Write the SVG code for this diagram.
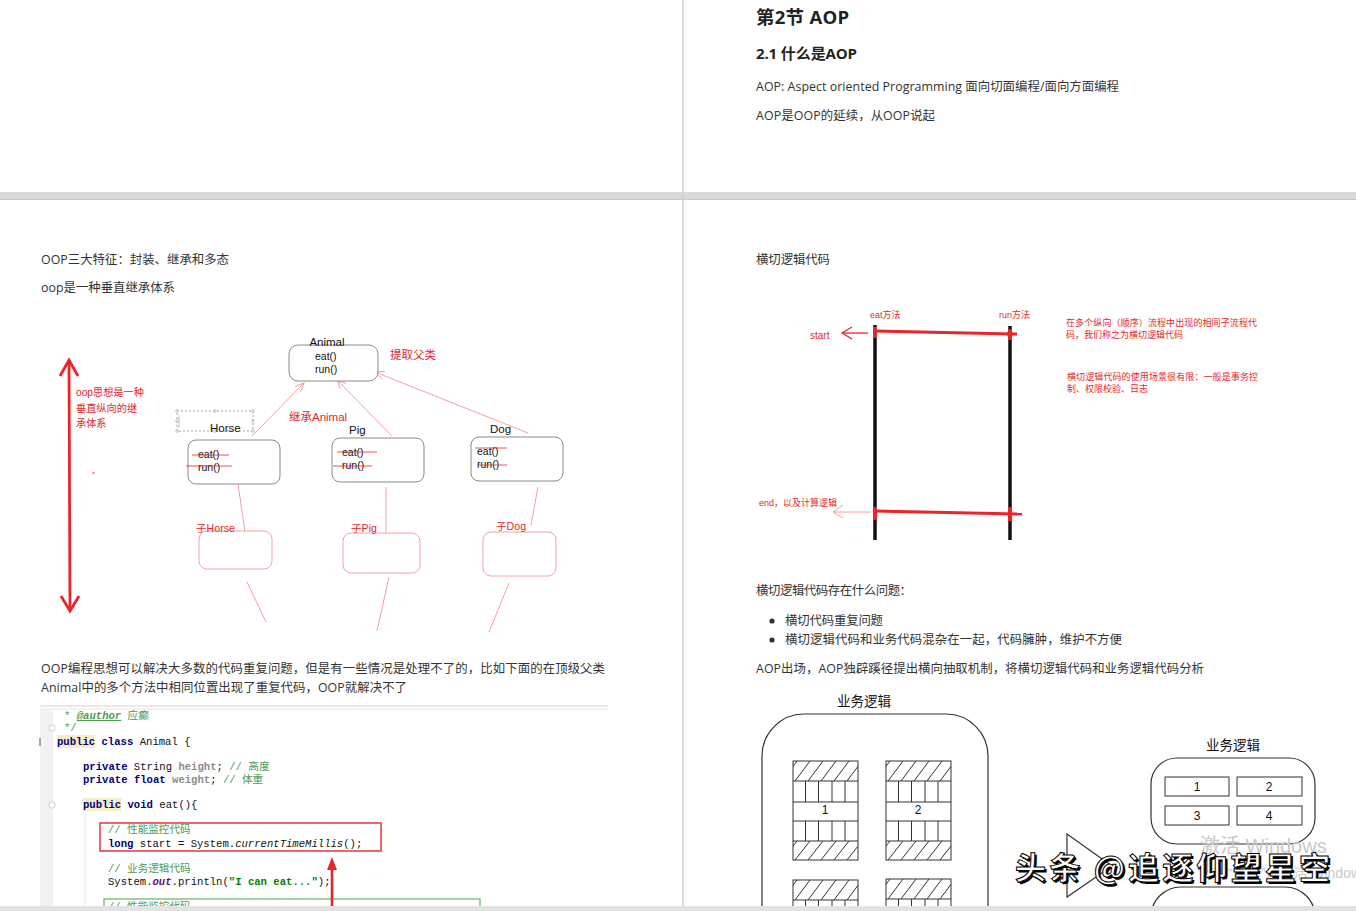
<svg xmlns="http://www.w3.org/2000/svg" width="1356" height="911" viewBox="0 0 1356 911">
<style>
.t{font-family:"Open Sans","Noto Sans CJK SC",sans-serif;font-size:12.4px;fill:#333}
.h{font-family:"Open Sans","Noto Sans CJK SC",sans-serif;font-weight:bold;fill:#222}
.d{font-family:"Liberation Sans","Noto Sans CJK SC",sans-serif;fill:#111}
.r{font-family:"Liberation Sans","Noto Sans CJK SC",sans-serif;fill:#e8262a}
.c{font-family:"Liberation Mono","Noto Sans CJK SC",monospace;font-size:10.6px;fill:#111}
.kw{fill:#000080;font-weight:bold}
.cm{fill:#4f9a4f}
.fld{fill:#8c8c8c;font-weight:bold}
.box{fill:#fff;stroke:#8a8a8a;stroke-width:1}
.sub{fill:#fff;stroke:#f2a4a4;stroke-width:1}
.lk{stroke:#f4a0a0;stroke-width:1;fill:none}
.strike{stroke:#e8262a;stroke-width:0.8}
.mod{fill:#fff;stroke:#333;stroke-width:1}
.ml{stroke:#333;stroke-width:1;fill:none}
</style>
<defs>
<marker id="oa" viewBox="0 0 10 8" refX="9" refY="4" markerWidth="10" markerHeight="8" markerUnits="userSpaceOnUse" orient="auto">
<path d="M0,0 L9,4 L0,8" fill="none" stroke="#f4a0a0" stroke-width="1"/>
</marker>
<clipPath id="hc1"><rect x="0" y="0" width="65" height="20"/></clipPath>
<clipPath id="hc2"><rect x="0" y="80" width="65" height="19"/></clipPath>
<g id="module">
<rect class="mod" x="0" y="0" width="65" height="99"/>
<g clip-path="url(#hc1)" class="ml">
<path d="M-11,20 L4,0 M2,20 L17,0 M15,20 L30,0 M28,20 L43,0 M41,20 L56,0 M54,20 L69,0"/>
</g>
<g clip-path="url(#hc2)" class="ml">
<path d="M-11,99 L4,80 M2,99 L17,80 M15,99 L30,80 M28,99 L43,80 M41,99 L56,80 M54,99 L69,80"/>
</g>
<path class="ml" d="M0,20 H65 M0,41 H65 M0,60 H65 M0,80 H65 M12.5,20 V41 M25.5,20 V41 M39,20 V41 M52,20 V41 M12.5,60 V80 M25.5,60 V80 M39,60 V80 M52,60 V80"/>
</g>
</defs>

<rect x="0" y="0" width="1356" height="911" fill="#fff"/>

<!-- page frame -->
<g id="pages">
<rect x="0" y="192" width="1356" height="8" fill="#d9d9d9"/>
<rect x="0" y="199" width="1356" height="1" fill="#c8c8c8"/>
<line x1="683" y1="0" x2="683" y2="911" stroke="#cfcfcf" stroke-width="1.5"/>
</g>

<!-- top right heading -->
<g id="heading">
<text class="h" x="756" y="24" font-size="18.5" textLength="93">第2节 AOP</text>
<text class="h" x="756" y="59" font-size="15" textLength="101">2.1 什么是AOP</text>
<text class="t" x="756" y="91" textLength="363">AOP: Aspect oriented Programming 面向切面编程/面向方面编程</text>
<text class="t" x="756" y="120" textLength="179">AOP是OOP的延续，从OOP说起</text>
</g>

<!-- left page texts -->
<g id="left-text">
<text class="t" x="41" y="264" font-size="12.5" textLength="188">OOP三大特征：封装、继承和多态</text>
<text class="t" x="41" y="292" font-size="12.5" textLength="134">oop是一种垂直继承体系</text>
<text class="t" x="41" y="673" font-size="12.5" textLength="564">OOP编程思想可以解决大多数的代码重复问题，但是有一些情况是处理不了的，比如下面的在顶级父类</text>
<text class="t" x="41" y="692" font-size="12.5" textLength="366">Animal中的多个方法中相同位置出现了重复代码，OOP就解决不了</text>
</g>

<!-- vertical OOP arrow -->
<g id="vertical-arrow">
<line x1="69" y1="361" x2="70" y2="610" stroke="#e8262a" stroke-width="2.8"/>
<polyline points="60,376 69,360 78,376" fill="none" stroke="#e8262a" stroke-width="2.8"/>
<polyline points="61,596 70,611 79,596" fill="none" stroke="#e8262a" stroke-width="2.8"/>
<text class="r" font-size="10.2"><tspan x="76" y="396">oop思想是一种</tspan><tspan x="76" y="412">垂直纵向的继</tspan><tspan x="76" y="427">承体系</tspan></text>
<line x1="92" y1="473" x2="95" y2="473" stroke="#e8262a" stroke-width="0.8"/>
</g>

<!-- connectors -->
<g id="connectors">
<line class="lk" x1="252" y1="436" x2="304" y2="383" marker-end="url(#oa)"/>
<line class="lk" x1="392" y1="436" x2="337" y2="380" marker-end="url(#oa)"/>
<line class="lk" x1="528" y1="433" x2="375" y2="372" marker-end="url(#oa)"/>
<line class="lk" x1="238" y1="484" x2="245" y2="532"/>
<line class="lk" x1="247" y1="582" x2="266" y2="622"/>
<line class="lk" x1="386" y1="487" x2="386" y2="535"/>
<line class="lk" x1="389" y1="577" x2="377" y2="631"/>
<line class="lk" x1="538" y1="487" x2="531" y2="525"/>
<line class="lk" x1="509" y1="583" x2="489" y2="632"/>
</g>

<g id="node-animal">
<rect class="box" x="289" y="345" width="89" height="36" rx="9"/>
<text class="d" x="327" y="346" font-size="11.5" text-anchor="middle">Animal</text>
<text class="d" x="315" y="360" font-size="10.5">eat()</text>
<text class="d" x="315" y="373" font-size="10.5">run()</text>
</g>
<text class="r" x="390" y="359" font-size="11.5">提取父类</text>
<text class="r" x="289" y="421" font-size="11.5">继承Animal</text>

<g id="node-horse">
<rect x="177" y="411" width="76" height="20" fill="none" stroke="#8a8a8a" stroke-width="0.8" stroke-dasharray="2,2"/>
<g fill="#fff" stroke="#999" stroke-width="0.6">
<circle cx="177" cy="411" r="1.3"/><circle cx="215" cy="411" r="1.3"/><circle cx="253" cy="411" r="1.3"/>
<circle cx="177" cy="421" r="1.3"/><circle cx="253" cy="421" r="1.3"/>
<circle cx="177" cy="431" r="1.3"/><circle cx="215" cy="431" r="1.3"/><circle cx="253" cy="431" r="1.3"/>
</g>
<line x1="179" y1="415" x2="179" y2="428" stroke="#999" stroke-width="0.6"/>
<text class="d" x="210" y="432" font-size="11.5">Horse</text>
<rect class="box" x="188" y="440" width="92" height="44" rx="8"/>
<text class="d" x="198" y="458" font-size="10.5">eat()</text>
<text class="d" x="198" y="471" font-size="10.5">run()</text>
<line class="strike" x1="192" y1="455" x2="229" y2="455"/>
<line class="strike" x1="186" y1="466" x2="232" y2="466"/>
</g>

<g id="node-pig">
<text class="d" x="349" y="434" font-size="11.5">Pig</text>
<rect class="box" x="332" y="438" width="92" height="44" rx="8"/>
<text class="d" x="342" y="456" font-size="10.5">eat()</text>
<text class="d" x="342" y="469" font-size="10.5">run()</text>
<line class="strike" x1="337" y1="452" x2="377" y2="452"/>
<line class="strike" x1="333" y1="466" x2="372" y2="466"/>
</g>

<g id="node-dog">
<text class="d" x="490" y="433" font-size="11.5">Dog</text>
<rect class="box" x="471" y="437" width="92" height="44" rx="8"/>
<text class="d" x="477" y="455" font-size="10.5">eat()</text>
<text class="d" x="477" y="468" font-size="10.5">run()</text>
<line class="strike" x1="475" y1="448" x2="507" y2="448"/>
<line class="strike" x1="477" y1="465" x2="507" y2="465"/>
</g>

<g id="node-sub-horse">
<rect class="sub" x="199" y="531" width="73" height="38" rx="8"/>
<text class="r" x="196" y="532" font-size="10.6">子Horse</text>
</g>
<g id="node-sub-pig">
<rect class="sub" x="343" y="533" width="77" height="40" rx="8"/>
<text class="r" x="351" y="532" font-size="10.6">子Pig</text>
</g>
<g id="node-sub-dog">
<rect class="sub" x="483" y="532" width="73" height="44" rx="8"/>
<text class="r" x="496" y="530" font-size="10.6">子Dog</text>
</g>

<!-- code block -->
<g id="code">
<line x1="40" y1="706" x2="608" y2="706" stroke="#d4d4d4" stroke-width="1"/>
<line x1="40" y1="709" x2="608" y2="709" stroke="#e4e4e4" stroke-width="1"/>
<rect x="40" y="710" width="13" height="197" fill="#f2f2f2"/>
<line x1="40" y1="738" x2="40" y2="746" stroke="#555" stroke-width="1"/>
<circle cx="52" cy="728" r="3.2" fill="#fff" stroke="#c4c4c4" stroke-width="0.8"/>
<circle cx="52" cy="805" r="3.2" fill="#fff" stroke="#c4c4c4" stroke-width="0.8"/>
<line x1="85" y1="815" x2="85" y2="907" stroke="#e6e6e6" stroke-width="1"/>
<rect x="57" y="735" width="38" height="13" fill="#f6efc6"/>
<rect x="83" y="798" width="38" height="13" fill="#f6efc6"/>
<text class="c" x="64" y="719"><tspan class="cm">* </tspan><tspan class="cm" font-weight="bold" font-style="italic" text-decoration="underline">@author</tspan><tspan class="cm"> 应癫</tspan></text>
<text class="c" x="64" y="731"><tspan class="cm">*/</tspan></text>
<text class="c" x="57" y="745"><tspan class="kw">public</tspan> <tspan class="kw">class</tspan> Animal {</text>
<text class="c" x="83" y="770"><tspan class="kw">private</tspan> String <tspan class="fld">height</tspan>; <tspan class="cm">// 高度</tspan></text>
<text class="c" x="83" y="783"><tspan class="kw">private</tspan> <tspan class="kw">float</tspan> <tspan class="fld">weight</tspan>;  <tspan class="cm">// 体重</tspan></text>
<text class="c" x="83" y="808"><tspan class="kw">public</tspan> <tspan class="kw">void</tspan> eat(){</text>
<rect x="100" y="823" width="281" height="28" fill="none" stroke="#e8262a" stroke-width="1.4"/>
<text class="c" x="108" y="833"><tspan class="cm">// 性能监控代码</tspan></text>
<text class="c" x="108" y="847"><tspan class="kw">long</tspan> start = System.<tspan font-style="italic">currentTimeMillis</tspan>();</text>
<text class="c" x="108" y="872"><tspan class="cm">// 业务逻辑代码</tspan></text>
<text class="c" x="108" y="885">System.<tspan fill="#660e7a" font-weight="bold" font-style="italic">out</tspan>.println(<tspan fill="#008000" font-weight="bold">"I can eat..."</tspan>);</text>
<rect x="104" y="899" width="376" height="20" fill="none" stroke="#5cb85c" stroke-width="1.2"/>
<text class="c" x="108" y="910"><tspan class="cm">// 性能监控代码</tspan></text>
<line x1="332" y1="907" x2="332" y2="868" stroke="#e8262a" stroke-width="2.6"/>
<polygon points="332,857 327,870 337,870" fill="#e8262a"/>
</g>

<!-- right page -->
<g id="right-text">
<text class="t" x="756" y="264" textLength="74">横切逻辑代码</text>
<text class="t" x="756" y="595" textLength="156">横切逻辑代码存在什么问题：</text>
<circle cx="772" cy="621" r="2.6" fill="#333"/>
<circle cx="772" cy="640" r="2.6" fill="#333"/>
<text class="t" x="785" y="625" textLength="98">横切代码重复问题</text>
<text class="t" x="785" y="644" textLength="337">横切逻辑代码和业务代码混杂在一起，代码臃肿，维护不方便</text>
<text class="t" x="756" y="673" textLength="448">AOP出场，AOP独辟蹊径提出横向抽取机制，将横切逻辑代码和业务逻辑代码分析</text>
</g>

<!-- crosscutting diagram -->
<g id="crosscut">
<line x1="875" y1="325" x2="875" y2="540" stroke="#111" stroke-width="3.5"/>
<line x1="1010" y1="326" x2="1010" y2="540" stroke="#111" stroke-width="3.5"/>
<text class="r" x="870" y="318" font-size="9">eat方法</text>
<text class="r" x="999" y="318" font-size="9">run方法</text>
<line x1="874" y1="331" x2="1013" y2="334" stroke="#e8262a" stroke-width="3"/>
<line x1="875" y1="327" x2="875" y2="338" stroke="#e8262a" stroke-width="4"/>
<line x1="1010" y1="329" x2="1010" y2="340" stroke="#e8262a" stroke-width="4"/>
<line x1="1006" y1="334" x2="1017" y2="334" stroke="#e8262a" stroke-width="3"/>
<line x1="874" y1="511" x2="1022" y2="514" stroke="#e8262a" stroke-width="3"/>
<line x1="875" y1="507" x2="875" y2="520" stroke="#e8262a" stroke-width="4"/>
<line x1="1010" y1="507" x2="1010" y2="521" stroke="#e8262a" stroke-width="4"/>
<line x1="868" y1="333" x2="843" y2="333" stroke="#e8262a" stroke-width="1.3"/>
<polyline points="852,327 842,333 852,339" fill="none" stroke="#e8262a" stroke-width="1.3"/>
<text class="r" x="810" y="339" font-size="10">start</text>
<line x1="871" y1="512" x2="834" y2="512" stroke="#f4a0a0" stroke-width="1"/>
<polyline points="843,505 833,512 843,518" fill="none" stroke="#f4a0a0" stroke-width="1"/>
<text class="r" x="759" y="506" font-size="9" textLength="78">end，以及计算逻辑</text>
<text class="r" font-size="9"><tspan x="1066" y="326" textLength="191">在多个纵向（顺序）流程中出现的相同子流程代</tspan><tspan x="1066" y="338">码，我们称之为横切逻辑代码</tspan></text>
<text class="r" font-size="9"><tspan x="1067" y="380" textLength="191">横切逻辑代码的使用场景很有限：一般是事务控</tspan><tspan x="1067" y="392">制、权限校验、日志</tspan></text>
</g>

<!-- business logic diagram (left) -->
<g id="biz-big">
<text class="d" x="864" y="706" font-size="13.5" text-anchor="middle" fill="#222">业务逻辑</text>
<path d="M762,915 L762,756 A42,42 0 0 1 804,714 L946,714 A42,42 0 0 1 988,756 L988,915" fill="none" stroke="#333" stroke-width="1.2"/>
<use href="#module" x="793" y="761"/>
<use href="#module" x="886" y="761"/>
<use href="#module" x="793" y="880"/>
<use href="#module" x="886" y="879"/>
<text class="d" x="825" y="814" font-size="12" text-anchor="middle">1</text>
<text class="d" x="918" y="814" font-size="12" text-anchor="middle">2</text>
</g>

<!-- business logic diagram (right) -->
<g id="biz-small">
<text class="d" x="1233" y="750" font-size="13.5" text-anchor="middle" fill="#222">业务逻辑</text>
<rect x="1151" y="758" width="164" height="86" rx="26" fill="#fff" stroke="#333" stroke-width="1.2"/>
<rect x="1165" y="777" width="64" height="19" fill="#fff" stroke="#333" stroke-width="1"/>
<rect x="1237" y="777" width="65" height="19" fill="#fff" stroke="#333" stroke-width="1"/>
<rect x="1165" y="806" width="64" height="19" fill="#fff" stroke="#333" stroke-width="1"/>
<rect x="1237" y="806" width="65" height="19" fill="#fff" stroke="#333" stroke-width="1"/>
<text class="d" x="1197" y="791" font-size="12" text-anchor="middle">1</text>
<text class="d" x="1269" y="791" font-size="12" text-anchor="middle">2</text>
<text class="d" x="1197" y="820" font-size="12" text-anchor="middle">3</text>
<text class="d" x="1269" y="820" font-size="12" text-anchor="middle">4</text>
<path d="M1151,915 L1151,917 L1151,917 A30,30 0 0 1 1181,887 L1285,887 A30,30 0 0 1 1315,917" fill="none" stroke="#333" stroke-width="1.2"/>
<polygon points="1067,834 1112,866 1067,897" fill="none" stroke="#333" stroke-width="1.2"/>
</g>

<!-- bottom band -->
<rect x="0" y="906" width="1356" height="5" fill="#e2e2e2"/>

<!-- overlays -->
<g id="overlay">
<text x="1200" y="853" font-family="Liberation Sans,Noto Sans CJK SC,sans-serif" font-size="20" fill="#c9c9c9">激活 Windows</text>
<text x="1200" y="878" font-family="Liberation Sans,Noto Sans CJK SC,sans-serif" font-size="14" fill="#c9c9c9">转到“设置”以激活 Windows</text>
<text x="1017" y="881" font-family="Noto Sans CJK SC,sans-serif" font-size="31" font-weight="bold" fill="#000" textLength="315">头条 @追逐仰望星空</text>
<text x="1015" y="879" font-family="Noto Sans CJK SC,sans-serif" font-size="31" font-weight="bold" fill="#fff" stroke="#000" stroke-width="1" textLength="315">头条 @追逐仰望星空</text>
</g>
</svg>
